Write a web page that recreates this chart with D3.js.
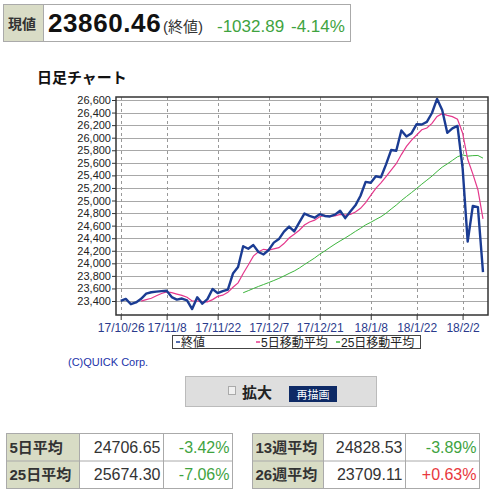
<!DOCTYPE html>
<html><head><meta charset="utf-8">
<script src="https://cdn.jsdelivr.net/npm/d3@7"></script>
<style>
html,body{margin:0;padding:0;background:#fff;}
svg{display:block;font-family:"Liberation Sans",Arial,"Noto Sans CJK JP",sans-serif;}
</style></head>
<body><svg id="c" width="500" height="500"></svg>
<script>
const dates = ["17/10/26","17/10/27","17/10/30","17/10/31","17/11/1","17/11/2","17/11/3","17/11/6","17/11/7","17/11/8","17/11/9","17/11/10","17/11/13","17/11/14","17/11/15","17/11/16","17/11/17","17/11/20","17/11/21","17/11/22","17/11/24","17/11/27","17/11/28","17/11/29","17/11/30","17/12/1","17/12/4","17/12/5","17/12/6","17/12/7","17/12/8","17/12/11","17/12/12","17/12/13","17/12/14","17/12/15","17/12/18","17/12/19","17/12/20","17/12/21","17/12/22","17/12/26","17/12/27","17/12/28","17/12/29","18/1/2","18/1/3","18/1/4","18/1/5","18/1/8","18/1/9","18/1/10","18/1/11","18/1/12","18/1/16","18/1/17","18/1/18","18/1/19","18/1/22","18/1/23","18/1/24","18/1/25","18/1/26","18/1/29","18/1/30","18/1/31","18/2/1","18/2/2","18/2/5","18/2/6","18/2/7","18/2/8"];
const closes = [23400.86,23434.19,23348.74,23377.24,23435.01,23516.26,23539.19,23548.42,23557.23,23563.36,23461.94,23422.21,23439.70,23409.47,23271.28,23458.36,23358.24,23430.33,23590.83,23526.18,23557.99,23580.78,23836.71,23940.68,24272.35,24231.59,24290.05,24180.64,24140.91,24211.48,24329.16,24386.03,24504.80,24585.43,24508.66,24651.74,24792.20,24754.75,24726.65,24782.29,24754.06,24746.21,24774.30,24837.51,24719.22,24824.01,24922.68,25075.13,25295.87,25283.00,25385.80,25369.13,25574.73,25803.19,25792.86,26115.65,26017.81,26071.72,26214.60,26210.81,26252.12,26392.79,26616.71,26439.48,26076.89,26149.39,26186.71,25520.96,24345.75,24912.77,24893.35,23860.46];
const ma5 = [null,null,null,null,23399.21,23422.29,23443.29,23483.22,23519.22,23544.89,23534.03,23510.63,23488.89,23459.34,23400.92,23400.20,23387.41,23385.54,23421.81,23472.79,23492.71,23537.22,23618.50,23688.47,23837.70,23972.42,24114.28,24183.06,24223.11,24210.93,24230.45,24249.64,24314.48,24403.38,24462.82,24527.33,24608.57,24658.56,24686.80,24741.53,24761.99,24752.79,24756.70,24778.87,24766.26,24780.25,24815.54,24875.71,24967.38,25080.14,25192.50,25281.79,25381.71,25483.17,25585.14,25731.11,25860.85,25960.25,26042.53,26126.12,26153.41,26228.41,26337.41,26382.38,26355.60,26335.05,26293.84,26074.69,25655.94,25423.12,25171.91,24706.65];
const ma25 = [null,null,null,null,null,null,null,null,null,null,null,null,null,null,null,null,null,null,null,null,null,null,null,null,23531.10,23564.33,23598.57,23631.84,23662.39,23693.45,23725.96,23759.84,23798.09,23839.22,23877.03,23924.62,23979.42,24032.03,24084.71,24145.15,24196.98,24252.50,24306.26,24356.13,24403.85,24454.49,24508.16,24557.70,24611.91,24652.33,24698.50,24741.67,24797.43,24863.92,24927.18,24998.64,25063.91,25126.58,25191.75,25259.84,25323.85,25387.88,25462.35,25530.87,25582.65,25638.46,25696.08,25725.95,25706.28,25714.02,25716.80,25674.30];
const xTickLabels = ["17/10/26","17/11/8","17/11/22","17/12/7","17/12/21","18/1/8","18/1/22","18/2/2"];
const yTicks = [23400,23600,23800,24000,24200,24400,24600,24800,25000,25200,25400,25600,25800,26000,26200,26400,26600];
const legendLabels = ["終値","5日移動平均","25日移動平均"];
const header = {label:"現値", price:"23860.46", note:"(終値)", change:"-1032.89", pct:"-4.14%"};
const tblLeft = [["5日平均","24706.65","-3.42%"],["25日平均","25674.30","-7.06%"]];
const tblRight = [["13週平均","24828.53","-3.89%"],["26週平均","23709.11","+0.63%"]];

const svg = d3.select("#c");
const navy = "#1b3c93", pink = "#e5388c", green = "#3cb53c";
const gGreen = "#3fa33f", gRed = "#e8383d";

// Header
const hg = svg.append("g");
hg.append("rect").attr("x",3.5).attr("y",4.5).attr("width",347).attr("height",37).attr("fill","#fff").attr("stroke","#aaa");
hg.append("rect").attr("x",4).attr("y",5).attr("width",39.5).attr("height",36).attr("fill","#d9dcc6");
hg.append("line").attr("x1",43.5).attr("x2",43.5).attr("y1",4.5).attr("y2",41.5).attr("stroke","#aaa");
hg.append("text").attr("x",8).attr("y",29).attr("font-size",14).attr("font-weight","bold").attr("fill","#333").text(header.label);
hg.append("text").attr("x",48).attr("y",32).attr("font-size",26).attr("font-weight","bold").attr("letter-spacing",0.6).attr("fill","#111").text(header.price);
hg.append("text").attr("x",163).attr("y",32).attr("font-size",15).attr("fill","#333").text(header.note);
hg.append("text").attr("x",217).attr("y",32).attr("font-size",17).attr("fill",gGreen).text(header.change);
hg.append("text").attr("x",291).attr("y",32).attr("font-size",17).attr("fill",gGreen).text(header.pct);

svg.append("text").attr("x",37).attr("y",83).attr("font-size",15).attr("font-weight","bold").attr("fill","#111").text("日足チャート");

// Chart
const L=116, R=488, T=97, B=315;
const x = d3.scaleLinear().domain([0, dates.length-1]).range([120.7, 483]);
const y = d3.scaleLinear().domain([23400, 26600]).range([301, 100]);

const cg = svg.append("g");
cg.append("rect").attr("x",L).attr("y",T).attr("width",R-L).attr("height",B-T).attr("fill","#fff");
cg.selectAll(".hg").data(yTicks).join("line")
  .attr("x1",L).attr("x2",R).attr("y1",d=>Math.round(y(d))+0.5).attr("y2",d=>Math.round(y(d))+0.5)
  .attr("stroke","#a8a8a8").attr("stroke-width",1);
const tickIdx = xTickLabels.map(l=>dates.indexOf(l));
cg.selectAll(".vg").data(tickIdx).join("line")
  .attr("x1",d=>Math.round(x(d))+0.5).attr("x2",d=>Math.round(x(d))+0.5).attr("y1",T).attr("y2",B)
  .attr("stroke","#999").attr("stroke-dasharray","3,3");

const yAxis = d3.axisLeft(y).tickValues(yTicks).tickSize(4).tickPadding(1).tickFormat(d3.format(","));
const ya = svg.append("g").attr("transform",`translate(${L},0)`).call(yAxis);
ya.select(".domain").remove();
ya.selectAll("text").attr("font-size",11).attr("fill","#222").attr("font-family",'"Liberation Sans",Arial,sans-serif');
ya.selectAll("line").attr("stroke","#333");

const xAxis = d3.axisBottom(x).tickValues(tickIdx).tickSize(5).tickPadding(3).tickFormat(i=>dates[i]);
const xa = svg.append("g").attr("transform",`translate(0,${B})`).call(xAxis);
xa.select(".domain").remove();
xa.selectAll("text").attr("font-size",12).attr("fill","#2a3a8c").attr("font-family",'"Liberation Sans",Arial,sans-serif');
xa.selectAll("line").attr("stroke","#333");

const line = d3.line().defined(d=>d[1]!=null).x(d=>x(d[0])).y(d=>y(d[1]));
cg.append("path").attr("d",line(ma25.map((v,i)=>[i,v]))).attr("fill","none").attr("stroke",green).attr("stroke-width",1);
cg.append("path").attr("d",line(ma5.map((v,i)=>[i,v]))).attr("fill","none").attr("stroke",pink).attr("stroke-width",1.2);
cg.append("path").attr("d",line(closes.map((v,i)=>[i,v]))).attr("fill","none").attr("stroke",navy).attr("stroke-width",2.4).attr("stroke-linejoin","round");

cg.append("rect").attr("x",L).attr("y",T).attr("width",R-L).attr("height",B-T).attr("fill","none").attr("stroke","#333").attr("stroke-width",1.5);

// Legend
const lg = svg.append("g");
lg.append("rect").attr("x",172.5).attr("y",335.5).attr("width",248).attr("height",13).attr("fill","#fff").attr("stroke","#444");
const lcol=[navy,pink,green], lx=[176,256,336];
legendLabels.forEach((t,i)=>{
  lg.append("line").attr("x1",lx[i]).attr("x2",lx[i]+4).attr("y1",342).attr("y2",342).attr("stroke",lcol[i]).attr("stroke-width",1.5);
  lg.append("text").attr("x",lx[i]+5).attr("y",346.5).attr("font-size",12).attr("fill","#222").text(t);
});
svg.append("text").attr("x",68).attr("y",366).attr("font-size",11).attr("fill","#2233aa").text("(C)QUICK Corp.");

// Button bar
const bg = svg.append("g");
bg.append("rect").attr("x",185.5).attr("y",376.5).attr("width",191).attr("height",30).attr("fill","#dedede").attr("stroke","#bbb");
bg.append("rect").attr("x",228.5).attr("y",386.5).attr("width",7).attr("height",8).attr("fill","#f0f0f0").attr("stroke","#aaa");
bg.append("text").attr("x",242).attr("y",398).attr("font-size",15).attr("font-weight","bold").attr("fill","#222").text("拡大");
bg.append("rect").attr("x",289).attr("y",386).attr("width",48).attr("height",16).attr("fill","#0e2a66");
bg.append("text").attr("x",313).attr("y",398.5).attr("text-anchor","middle").attr("font-size",11).attr("fill","#fff").text("再描画");

// Tables
function table(cols, rows){
  const g = svg.append("g");
  const top=433.5, rh=27.5;
  const w = cols[3]-cols[0];
  rows.forEach((r,i)=>{
    const yy = top+i*rh;
    g.append("rect").attr("x",cols[0]).attr("y",yy).attr("width",cols[1]-cols[0]).attr("height",rh).attr("fill","#d8dcc5");
    g.append("text").attr("x",cols[0]+3).attr("y",yy+19).attr("font-size",15).attr("font-weight","bold").attr("fill","#333").text(r[0]);
    g.append("text").attr("x",cols[2]-3).attr("y",yy+19).attr("text-anchor","end").attr("font-size",16).attr("fill","#333").text(r[1]);
    g.append("text").attr("x",cols[3]-3).attr("y",yy+19).attr("text-anchor","end").attr("font-size",16).attr("fill",r[2][0]==="+"?gRed:gGreen).text(r[2]);
  });
  g.append("rect").attr("x",cols[0]).attr("y",top).attr("width",w).attr("height",rh*rows.length).attr("fill","none").attr("stroke","#aaa");
  g.append("line").attr("x1",cols[0]).attr("x2",cols[3]).attr("y1",top+rh).attr("y2",top+rh).attr("stroke","#aaa");
  [cols[1],cols[2]].forEach(c=>g.append("line").attr("x1",c).attr("x2",c).attr("y1",top).attr("y2",top+rh*rows.length).attr("stroke","#aaa"));
}
table([6.5,79.5,163.5,232.5],tblLeft);
table([252.5,323.5,405.5,479.5],tblRight);
</script></body></html>
